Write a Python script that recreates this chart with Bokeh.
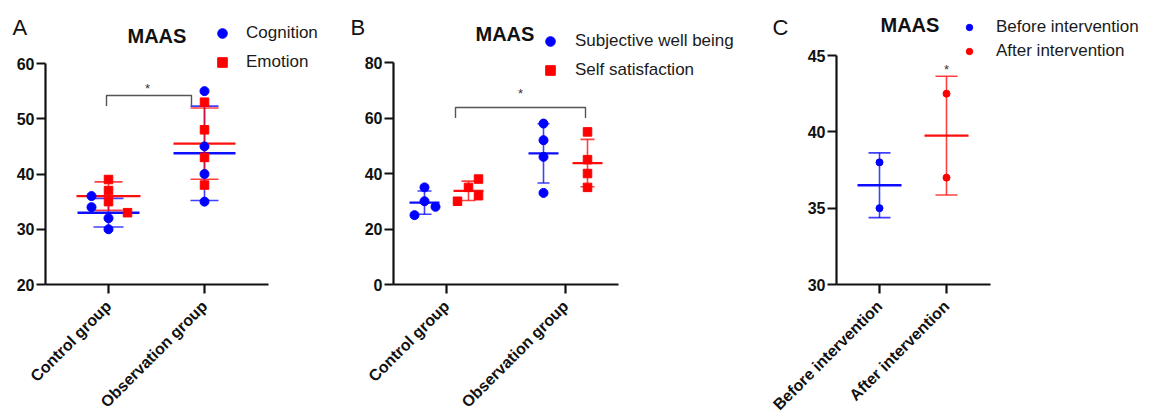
import numpy as np
from bokeh.plotting import figure
from bokeh.layouts import row
from bokeh.models import Range1d, FixedTicker, Legend, LegendItem, Label
from bokeh.embed import file_html
from bokeh.resources import INLINE
from bokeh.core.properties import value

# ---------------- data ----------------
# Panel A
a_groups = ["Control group", "Observation group"]
a_cog_control = [36, 34, 32, 30]
a_cog_obs = [55, 45, 40, 35]
a_emo_control = [39, 37, 35, 33]
a_emo_obs = [53, 48, 43, 38]
a_yticks = [20, 30, 40, 50, 60]
# Panel B
b_groups = ["Control group", "Observation group"]
b_swb_control = [25, 30, 35, 28]
b_swb_obs = [58, 52, 46, 33]
b_ss_control = [30, 35, 32, 38]
b_ss_obs = [55, 45, 40, 35]
b_yticks = [0, 20, 40, 60, 80]
# Panel C
c_groups = ["Before intervention", "After intervention"]
c_before = [38, 35]
c_after = [42.5, 37]
c_yticks = [30, 35, 40, 45]

# scatter jitter (pixel offsets, layout only)
a_cog_control_jit = [-17, -17, 0, 0]
a_emo_control_jit = [0, 0, 0, 19]
b_swb_control_jit = [-10, 0, 0, 11]
b_ss_control_jit = [-11, 0, 10, 10]

BLUE = "#0000ff"
RED = "#ff0000"
FONT = "Liberation Sans"
H = 419
AXIS_ROW = 284  # pixel row of the x axis


class Panel:
    """Pixel-calibrated layout helper for one panel (frame = whole figure)."""

    def __init__(self, w, tick1_px, unit_px, yaxis_px, xaxis_end_px, ylo, yhi, yhi_px):
        self.w = w
        self.t1 = tick1_px
        self.u = unit_px
        self.ylo = ylo
        self.yhi = yhi
        self.ppu = (AXIS_ROW - yhi_px) / (yhi - ylo)
        self.x_start = 1 - tick1_px / unit_px
        self.x_end = 1 + (w - tick1_px) / unit_px
        self.y_end = ylo + AXIS_ROW / self.ppu
        self.y_start = ylo - (H - AXIS_ROW) / self.ppu
        self.yaxis_x = self.px(yaxis_px)
        self.xaxis_end = self.px(xaxis_end_px)

    def px(self, p):
        return 1 + (p - self.t1) / self.u


def make_fig(pn, yticks, xlabels):
    p = figure(width=pn.w, height=H, x_range=Range1d(pn.x_start, pn.x_end),
               y_range=Range1d(pn.y_start, pn.y_end),
               output_backend="svg", toolbar_location=None,
               min_border_left=0, min_border_right=0,
               min_border_top=0, min_border_bottom=0)
    p.outline_line_color = None
    p.grid.visible = False
    p.background_fill_color = "white"
    p.border_fill_color = "white"
    for ax in (p.xaxis[0], p.yaxis[0]):
        ax.axis_line_width = 2.2
        ax.axis_line_color = "#111111"
        ax.major_tick_line_width = 2.2
        ax.major_tick_line_color = "#111111"
        ax.major_tick_out = 9
        ax.major_tick_in = 0
        ax.minor_tick_line_color = None
        ax.major_label_text_font = FONT
        ax.major_label_text_font_style = "bold"
        ax.major_label_text_color = "#111111"
    ya = p.yaxis[0]
    ya.ticker = FixedTicker(ticks=yticks)
    ya.major_label_text_font_size = "16px"
    ya.major_label_standoff = 2
    ya.bounds = (pn.ylo, pn.yhi)
    ya.fixed_location = pn.yaxis_x
    xa = p.xaxis[0]
    xa.ticker = FixedTicker(ticks=[1, 2])
    xa.major_label_overrides = {1: xlabels[0], 2: xlabels[1]}
    xa.major_label_orientation = np.pi / 4
    xa.major_label_text_font_size = "16px"
    xa.major_label_standoff = 10
    xa.bounds = (pn.yaxis_x, pn.xaxis_end)
    xa.fixed_location = pn.ylo
    return p


def errbar(p, xc, vals, color, mean_half, cap_half, lw_mean=2.4, lw_bar=1.6):
    m = float(np.mean(vals))
    s = float(np.std(vals, ddof=1))
    p.segment(x0=[xc], y0=[m - s], x1=[xc], y1=[m + s], line_color=color,
              line_width=lw_bar, line_alpha=0.75)
    p.segment(x0=[xc - cap_half] * 2, y0=[m - s, m + s], x1=[xc + cap_half] * 2,
              y1=[m - s, m + s], line_color=color, line_width=lw_bar, line_alpha=0.75)
    p.segment(x0=[xc - mean_half], y0=[m], x1=[xc + mean_half], y1=[m],
              line_color=color, line_width=lw_mean, line_alpha=0.95)


def add_labels(p, letter, letter_x, title_x, title_base):
    p.add_layout(Label(x=letter_x, y=H - 27, x_units="screen", y_units="screen",
                       text=letter, text_font=FONT, text_font_size="22px",
                       text_color="#111111", text_baseline="alphabetic"))
    p.add_layout(Label(x=title_x, y=H - title_base, x_units="screen",
                       y_units="screen", text="MAAS", text_font=FONT,
                       text_font_size="20px", text_font_style="bold",
                       text_color="#111111", text_baseline="alphabetic"))


def make_legend(p, items, left, bottom, gw, standoff, spacing, gh=24):
    leg = Legend(items=[LegendItem(label=l, renderers=[r]) for l, r in items],
                 location=(left, H - bottom), padding=0, margin=0,
                 spacing=spacing, glyph_width=gw, glyph_height=gh, label_height=gh,
                 label_standoff=standoff, label_text_font=FONT,
                 label_text_font_size="17px", label_text_color="#1a1a1a",
                 border_line_alpha=0, background_fill_alpha=0)
    p.add_layout(leg, "center")


def star(p, x, y):
    p.text(x=[x], y=[y], text=["*"], text_font=value(FONT), text_font_size="13px",
           text_align="center", text_baseline="alphabetic", text_color="#333333")


# ---------------- Panel A ----------------
A = Panel(330, 108, 96.0, 45, 268, 20, 60, 63)
pa = make_fig(A, a_yticks, a_groups)
ua = A.u
errbar(pa, 1, a_cog_control, BLUE, 31 / ua, 15 / ua)
errbar(pa, 1, a_emo_control, RED, 32 / ua, 14 / ua)
errbar(pa, 2, a_cog_obs, BLUE, 31 / ua, 14 / ua)
errbar(pa, 2, a_emo_obs, RED, 31 / ua, 14 / ua)
pa.line(x=[A.px(106), A.px(106), A.px(191), A.px(191)], y=[52.3, 54.2, 54.2, 52.3],
        line_color="#555555", line_width=1.4)
star(pa, A.px(147), 55.4)
ra1 = pa.scatter(x=[1 + j / ua for j in a_cog_control_jit] + [2] * 4,
                 y=a_cog_control + a_cog_obs, marker="circle", size=9, color=BLUE)
ra2 = pa.scatter(x=[1 + j / ua for j in a_emo_control_jit] + [2] * 4,
                 y=a_emo_control + a_emo_obs, marker="square", size=8.5, color=RED)
add_labels(pa, "A", 12, 127, 35)
make_legend(pa, [("Cognition", ra1), ("Emotion", ra2)], 210, 74, 24, 12, 5)

# ---------------- Panel B ----------------
B = Panel(420, 116, 119.0, 63, 288, 0, 80, 62)
pb = make_fig(B, b_yticks, b_groups)
ub = B.u
db = 22 / ub
errbar(pb, 1 - db, b_swb_control, BLUE, 15 / ub, 7 / ub)
errbar(pb, 1 + db, b_ss_control, RED, 15 / ub, 7 / ub)
errbar(pb, 2 - db, b_swb_obs, BLUE, 15 / ub, 6 / ub)
errbar(pb, 2 + db, b_ss_obs, RED, 15 / ub, 7 / ub)
pb.line(x=[B.px(125), B.px(125), B.px(255), B.px(255)], y=[60.0, 63.8, 63.8, 60.0],
        line_color="#555555", line_width=1.4)
star(pb, B.px(190), 69.0)
rb1 = pb.scatter(x=[1 - db + j / ub for j in b_swb_control_jit] + [2 - db] * 4,
                 y=b_swb_control + b_swb_obs, marker="circle", size=9, color=BLUE)
rb2 = pb.scatter(x=[1 + db + j / ub for j in b_ss_control_jit] + [2 + db] * 4,
                 y=b_ss_control + b_ss_obs, marker="square", size=8.5, color=RED)
add_labels(pb, "B", 20, 145, 33)
make_legend(pb, [("Subjective well being", rb1), ("Self satisfaction", rb2)], 208, 82, 24, 13, 5)

# ---------------- Panel C ----------------
C = Panel(408, 129, 67.0, 86, 240, 30, 45, 55)
pc = make_fig(C, c_yticks, c_groups)
uc = C.u
errbar(pc, 1, c_before, BLUE, 22 / uc, 11 / uc)
errbar(pc, 2, c_after, RED, 22 / uc, 11 / uc)
star(pc, 2, 44.1)
rc1 = pc.scatter(x=[1] * len(c_before), y=c_before, marker="circle", size=7, color=BLUE)
rc2 = pc.scatter(x=[2] * len(c_after), y=c_after, marker="circle", size=7, color=RED)
add_labels(pc, "C", 22, 130, 24)
make_legend(pc, [("Before intervention", rc1), ("After intervention", rc2)], 211, 63, 16, 19, 0)

layout = row(pa, pb, pc, spacing=0)
open("out.html", "w").write(file_html(layout, INLINE))
